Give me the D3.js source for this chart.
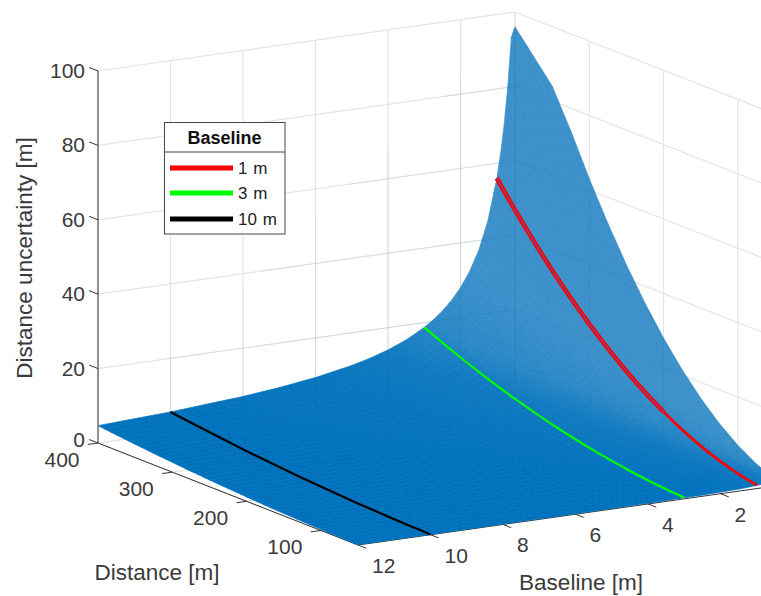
<!DOCTYPE html>
<html><head><meta charset="utf-8">
<script src="https://cdnjs.cloudflare.com/ajax/libs/d3/7.8.5/d3.min.js"></script>
<style>html,body{margin:0;padding:0;background:#fff}svg{display:block}text{font-family:"Liberation Sans",Arial,sans-serif;fill:#3a3a3a}</style>
</head><body><svg id="c" width="761" height="596"></svg>
<script>
// Data
const distances = [50,75,100,125,150,175,200,225,250,275,300,325,350,375,400];
const baselines = [0.5,0.6,0.7,0.8,0.9,1,1.25,1.5,1.75,2,2.25,2.5,2.75,3,3.5,4,4.5,5,6,7,8,10,12];
const zB0_5 = [1.75,3.94,7,10.94,15.75,21.44,28,35.44,43.76,52.94,63,73.94,84,90,96];
const zB0_6 = [1.46,3.28,5.83,9.12,13.13,17.87,23.33,29.53,36.47,44.12,52.5,61.62,71.47,82.03,93.33];
const zB0_7 = [1.25,2.81,5,7.81,11.25,15.31,20,25.31,31.26,37.81,45,52.81,61.26,70.31,80];
const zB0_8 = [1.09,2.46,4.38,6.84,9.84,13.4,17.5,22.15,27.35,33.09,39.38,46.21,53.6,61.53,70];
const zB0_9 = [.97,2.19,3.89,6.08,8.75,11.91,15.56,19.69,24.31,29.41,35,41.08,47.64,54.69,62.22];
const zB1   = [.88,1.97,3.5,5.47,7.88,10.72,14,17.72,21.88,26.47,31.5,36.97,42.88,49.22,56];
const zB1_25= [.7,1.58,2.8,4.38,6.3,8.58,11.2,14.18,17.5,21.18,25.2,29.58,34.3,39.38,44.8];
const zB1_5 = [.58,1.31,2.33,3.65,5.25,7.15,9.33,11.81,14.59,17.65,21,24.65,28.59,32.81,37.33];
const zB1_75= [.5,1.13,2,3.13,4.5,6.13,8,10.13,12.5,15.13,18,21.13,24.5,28.13,32];
const zB2   = [.44,.98,1.75,2.73,3.94,5.36,7,8.86,10.94,13.24,15.75,18.49,21.44,24.61,28];
const zB2_25= [.39,.88,1.56,2.43,3.5,4.76,6.22,7.88,9.72,11.76,14,16.43,19.06,21.88,24.89];
const zB2_5 = [.35,.79,1.4,2.19,3.15,4.29,5.6,7.09,8.75,10.59,12.6,14.79,17.15,19.69,22.4];
const zB2_75= [.32,.72,1.27,1.99,2.86,3.9,5.09,6.44,7.96,9.63,11.45,13.44,15.59,17.9,20.36];
const zB3   = [.29,.66,1.17,1.82,2.63,3.57,4.67,5.91,7.29,8.82,10.5,12.32,14.29,16.41,18.67];
const zB3_5 = [.25,.56,1,1.56,2.25,3.06,4,5.06,6.25,7.56,9,10.56,12.25,14.06,16];
const zB4   = [.22,.49,.88,1.37,1.97,2.68,3.5,4.43,5.47,6.62,7.88,9.24,10.72,12.31,14];
const zB4_5 = [.19,.44,.78,1.22,1.75,2.38,3.11,3.94,4.86,5.88,7,8.22,9.53,10.94,12.44];
const zB5   = [.18,.39,.7,1.09,1.58,2.14,2.8,3.54,4.38,5.29,6.3,7.39,8.58,9.84,11.2];
const zB6   = [.15,.33,.58,.91,1.31,1.79,2.33,2.95,3.65,4.41,5.25,6.16,7.15,8.2,9.33];
const zB7   = [.13,.28,.5,.78,1.13,1.53,2,2.53,3.13,3.78,4.5,5.28,6.13,7.03,8];
const zB8   = [.11,.25,.44,.68,.98,1.34,1.75,2.22,2.74,3.31,3.94,4.62,5.36,6.15,7];
const zB10  = [.09,.2,.35,.55,.79,1.07,1.4,1.77,2.19,2.65,3.15,3.7,4.29,4.92,5.6];
const zB12  = [.07,.16,.29,.46,.66,.89,1.17,1.48,1.82,2.21,2.63,3.08,3.57,4.1,4.67];
const zRows = [zB0_5,zB0_6,zB0_7,zB0_8,zB0_9,zB1,zB1_25,zB1_5,zB1_75,zB2,zB2_25,zB2_5,zB2_75,zB3,zB3_5,zB4,zB4_5,zB5,zB6,zB7,zB8,zB10,zB12];
const zTicks = [0,20,40,60,80,100];
const distanceTicks = [100,200,300,400];
const baselineTicks = [2,4,6,8,10,12];
const legendNames = ["1 m","3 m","10 m"];
const legendColors = ["#ff0000","#00ff00","#000000"];
const legendRows = [zB1,zB3,zB10];
const legendBaselines = [1,3,10];

// Oblique projection scales
const origin = [358,545];
const bX = d3.scaleLinear().domain([12,0.5]).range([0,417]);
const bY = d3.scaleLinear().domain([12,0.5]).range([0,-59]);
const dX = d3.scaleLinear().domain([50,400]).range([0,-260]);
const dY = d3.scaleLinear().domain([50,400]).range([0,-102]);
const zY = d3.scaleLinear().domain([0,100]).range([0,-372]);
const P = (b,d,z)=>[origin[0]+bX(b)+dX(d), origin[1]+bY(b)+dY(d)+zY(z)];

const svg = d3.select("#c");
const line = d3.line();
const grid = svg.append("g").attr("fill","none").attr("stroke","#e4e4e4").attr("stroke-width",1.2);
function seg(g,a,b){return g.append("path").attr("d",line([a,b]));}
zTicks.forEach(z=>{
  seg(grid,P(12,400,z),P(0.5,400,z));
  seg(grid,P(0.5,400,z),P(0.5,50,z));
});
baselineTicks.concat([0.5]).forEach(b=>seg(grid,P(b,400,0),P(b,400,100)));
distanceTicks.forEach(d=>seg(grid,P(0.5,d,0),P(0.5,d,100)));
baselineTicks.forEach(b=>seg(grid,P(b,400,0),P(b,50,0)));
distanceTicks.forEach(d=>seg(grid,P(12,d,0),P(0.5,d,0)));

// axes lines (under the surface)
const ax = svg.append("g").attr("fill","none").attr("stroke","#333").attr("stroke-width",1);
seg(ax,P(12,400,0),P(12,400,100));
seg(ax,P(12,400,0),P(12,50,0));
seg(ax,P(12,50,0),P(0.5,50,0));
zTicks.forEach(z=>seg(ax,P(12,400,z),P(12,412,z)));
distanceTicks.forEach(d=>seg(ax,P(12,d,0),P(12.28,d,0)));
baselineTicks.forEach(b=>seg(ax,P(b,50,0),P(b,39,0)));

// Surface: colour follows how stretched the mesh is on screen
const nB = baselines.length, nD = distances.length;
function stretch(i,j){
  const i0=Math.max(i-1,0),i1=Math.min(i+1,nB-1),j0=Math.max(j-1,0),j1=Math.min(j+1,nD-1);
  const a=P(baselines[i0],distances[j],zRows[i0][j]),b=P(baselines[i1],distances[j],zRows[i1][j]);
  const c=P(baselines[i],distances[j0],zRows[i][j0]),e=P(baselines[i],distances[j1],zRows[i][j1]);
  const db=baselines[i1]-baselines[i0],dd=distances[j1]-distances[j0];
  return Math.abs((b[0]-a[0])*(e[1]-c[1])-(b[1]-a[1])*(e[0]-c[0]))/(db*dd);
}
const tone = d3.scaleLog().domain([18,32,46,85]).range([0,.25,.72,1]).clamp(true);
const colour = d3.interpolateRgb("#0072bd","#3c91ca");
const tvals = baselines.map((b,i)=>distances.map((d,j)=>tone(stretch(i,j))));
const surf = svg.append("g");
const N = 3;
for(let i=0;i<nB-1;i++)for(let j=0;j<nD-1;j++){
  const q=[[i,j],[i+1,j],[i,j+1],[i+1,j+1]].map(([a,c])=>P(baselines[a],distances[c],zRows[a][c]));
  const t=[tvals[i][j],tvals[i+1][j],tvals[i][j+1],tvals[i+1][j+1]];
  const mix=(v,u,w)=>(v[0]*(1-u)+v[1]*u)*(1-w)+(v[2]*(1-u)+v[3]*u)*w;
  const pt=(u,w)=>[mix(q.map(p=>p[0]),u,w),mix(q.map(p=>p[1]),u,w)];
  for(let a=0;a<N;a++)for(let c=0;c<N;c++){
    const u0=a/N,u1=(a+1)/N,w0=c/N,w1=(c+1)/N;
    const col=colour(mix(t,(u0+u1)/2,(w0+w1)/2));
    surf.append("path").attr("d",line([pt(u0,w0),pt(u1,w0),pt(u1,w1),pt(u0,w1)])+"Z")
      .attr("fill",col).attr("stroke",col).attr("stroke-width",.7);
  }
}
// grid seen faintly through the surface
const through = svg.append("g").attr("fill","none").attr("stroke","#0a4f86").attr("stroke-opacity",.07).attr("stroke-width",1);
const clip = svg.append("clipPath").attr("id","surfClip");
const outline = baselines.map((b,i)=>P(b,400,zRows[i][nD-1]))
  .concat(distances.slice().reverse().map((d,j)=>P(0.5,d,zRows[0][nD-1-j])))
  .concat(baselines.map((b,i)=>P(b,50,zRows[i][0])))
  .concat(distances.map((d,j)=>P(12,d,zRows[nB-1][j])));
clip.append("path").attr("d",line(outline)+"Z");
through.attr("clip-path","url(#surfClip)");
zTicks.slice(1).forEach(z=>{seg(through,P(12,400,z),P(0.5,400,z));seg(through,P(0.5,400,z),P(0.5,50,z));});
baselineTicks.concat([0.5]).forEach(b=>seg(through,P(b,400,0),P(b,400,100)));
distanceTicks.forEach(d=>seg(through,P(0.5,d,0),P(0.5,d,100)));

// Curves at the three baselines
const curve = d3.line().curve(d3.curveCatmullRom);
legendRows.forEach((row,k)=>{
  const b=legendBaselines[k];
  const pts=distances.map((d,j)=>P(b,d,row[j]));
  svg.append("path").attr("d",curve(pts)).attr("fill","none")
    .attr("stroke",legendColors[k]).attr("stroke-width",k===0?2.8:2.2);
});
const upper = distances.map((d,j)=>({d,z:zB1[j]})).filter(o=>o.d>=175);
const upperPts = upper.map(o=>P(1,o.d,o.z));
svg.append("path").attr("d",curve(upperPts)).attr("fill","none").attr("stroke","#ff0000").attr("stroke-width",4.6);
svg.append("path").attr("d",curve(upperPts)).attr("fill","none").attr("stroke","#5a5aa8").attr("stroke-width",1.2).attr("stroke-opacity",.8);

// Tick labels
const tick = svg.append("g").attr("font-size",21);
zTicks.forEach(z=>{const p=P(12,400,z);
  tick.append("text").attr("x",85).attr("y",p[1]+(z===0?4:7)).attr("text-anchor","end").text(z);});
distanceTicks.forEach(d=>{const p=P(12,d,0);
  tick.append("text").attr("x",p[0]-36).attr("y",p[1]+24).attr("text-anchor","middle").text(d);});
baselineTicks.forEach(b=>{const p=P(b,50,0);
  tick.append("text").attr("x",p[0]+14).attr("y",p[1]+28).attr("text-anchor","start").text(b);});

// Axis titles
const title = svg.append("g").attr("font-size",22.5);
title.append("text").attr("x",157).attr("y",580).attr("text-anchor","middle").text("Distance [m]");
title.append("text").attr("x",581).attr("y",590).attr("text-anchor","middle").text("Baseline [m]");
title.append("text").attr("transform","translate(32,258) rotate(-90)").attr("text-anchor","middle").text("Distance uncertainty [m]");

// Legend
const lg = svg.append("g");
lg.append("rect").attr("x",164.5).attr("y",122.5).attr("width",120.5).attr("height",111.5).attr("fill","#fff").attr("stroke","#444").attr("stroke-width",1);
lg.append("line").attr("x1",164.5).attr("x2",285).attr("y1",152).attr("y2",152).attr("stroke","#444");
lg.append("text").attr("x",224.5).attr("y",144).attr("text-anchor","middle").attr("font-weight","bold").attr("font-size",18).style("fill","#111").text("Baseline");
const lgY=[168,193,219];
legendNames.forEach((n,k)=>{
  lg.append("line").attr("x1",170).attr("x2",233).attr("y1",lgY[k]).attr("y2",lgY[k]).attr("stroke",legendColors[k]).attr("stroke-width",5);
  lg.append("text").attr("x",238).attr("y",lgY[k]+6).attr("font-size",17).attr("word-spacing",1).style("fill","#222").text(n);
});
</script></body></html>
